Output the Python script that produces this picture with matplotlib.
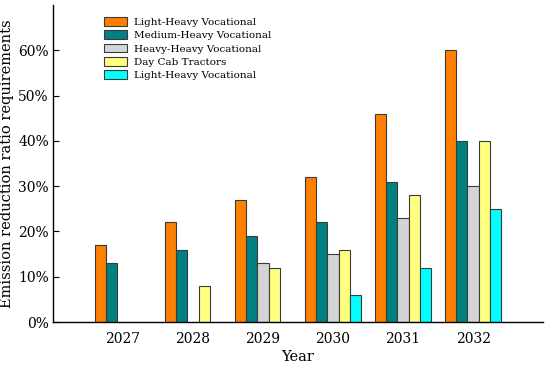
import numpy as np
import matplotlib
matplotlib.use('Agg')
import matplotlib.pyplot as plt
from matplotlib.ticker import PercentFormatter

plt.rcParams['font.family'] = ['DejaVu Serif', 'DejaVu Sans']

years = ['2027', '2028', '2029', '2030', '2031', '2032']
series = ['Light-Heavy Vocational', 'Medium-Heavy Vocational',
          'Heavy-Heavy Vocational', 'Day Cab Tractors', 'Light-Heavy Vocational']
light_heavy = [17, 22, 27, 32, 46, 60]
medium_heavy = [13, 16, 19, 22, 31, 40]
heavy_heavy = [0, 0, 13, 15, 23, 30]
day_cab = [0, 8, 12, 16, 28, 40]
light_heavy_2 = [0, 0, 0, 6, 12, 25]
colors = ['#ff8000', '#008080', '#d4d4d4', '#ffff80', '#00ffff']

values = [light_heavy, medium_heavy, heavy_heavy, day_cab, light_heavy_2]

fig = plt.figure(figsize=(5.5, 3.68), dpi=100)
ax = fig.add_axes([0.0964, 0.125, 0.891, 0.861])

x = np.arange(len(years))
w = 0.16
for i, (vals, lab, c) in enumerate(zip(values, series, colors)):
    v = np.array(vals, dtype=float)
    mask = v > 0
    ax.bar(x[mask] + (i - 2) * w, v[mask], width=w, color=c,
           edgecolor='#3a3a3a', linewidth=0.8, label=lab)

ax.set_xlim(-1, 6)
ax.set_ylim(0, 70)
ax.set_yticks([0, 10, 20, 30, 40, 50, 60])
ax.yaxis.set_major_formatter(PercentFormatter(decimals=0))
ax.set_xticks(x)
ax.set_xticklabels(years)
ax.tick_params(axis='x', length=0, pad=7, labelsize=10)
ax.tick_params(axis='y', direction='in', length=4, labelsize=10, pad=3)
for s in ['top', 'right']:
    ax.spines[s].set_visible(False)
for s in ['left', 'bottom']:
    ax.spines[s].set_linewidth(1.0)

ax.set_xlabel('Year', fontsize=10.5, labelpad=3)
ax.set_ylabel('Emission reduction ratio requirements', fontsize=10.5, labelpad=3)

ax.legend(loc='upper left', bbox_to_anchor=(0.095, 0.975), frameon=False,
          fontsize=7.5, handlelength=2.2, handleheight=0.9,
          labelspacing=0.32, handletextpad=0.7, borderaxespad=0)

fig.savefig('out.png', dpi=100)
